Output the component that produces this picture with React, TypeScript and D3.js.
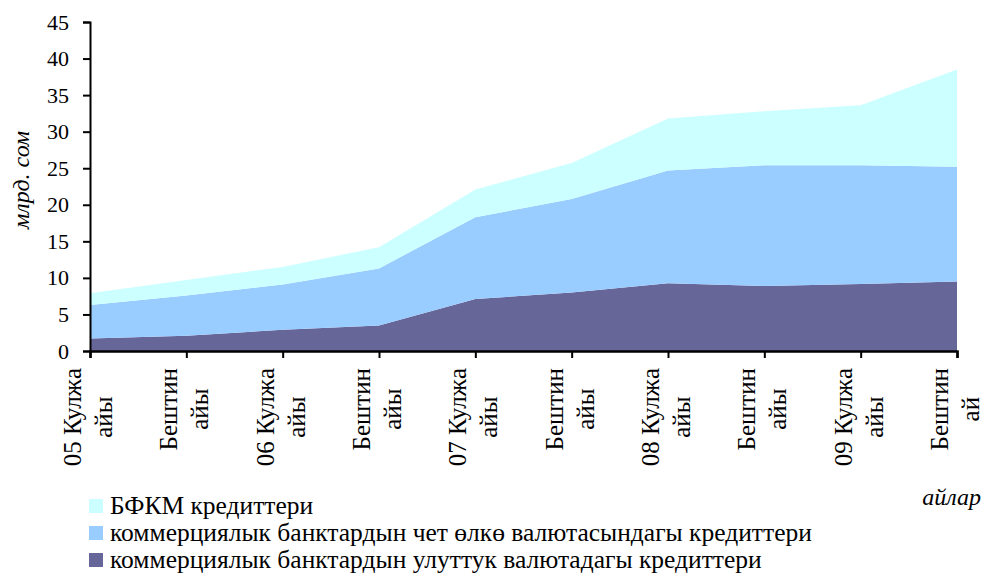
import * as d3 from "d3";
import { useEffect, useRef } from "react";

const months = [
  "05 Кулжа\nайы",
  "Бештин\nайы",
  "06 Кулжа\nайы",
  "Бештин\nайы",
  "07 Кулжа\nайы",
  "Бештин\nайы",
  "08 Кулжа\nайы",
  "Бештин\nайы",
  "09 Кулжа\nайы",
  "Бештин\nай",
];

// млрд. сом
const nationalCur = [1.7, 2.1, 2.9, 3.5, 7.1, 8.0, 9.25, 8.9, 9.15, 9.5];
const foreignCur = [4.6, 5.5, 6.2, 7.8, 11.2, 12.8, 15.45, 16.5, 16.25, 15.7];
const nbkrCredits = [1.6, 2.1, 2.4, 2.9, 3.8, 4.9, 7.1, 7.4, 8.2, 13.3];

const seriesNames = [
  "коммерциялык банктардын улуттук валютадагы кредиттери",
  "коммерциялык банктардын чет өлкө валютасындагы кредиттери",
  "БФКМ кредиттери",
];
const seriesColors = ["#666699", "#99CCFF", "#CCFFFF"];
const yTicks = [0, 5, 10, 15, 20, 25, 30, 35, 40, 45];

const W = 985;
const H = 573;
const FONT = "'Liberation Serif', 'Times New Roman', Times, serif";

const App = () => {
  const ref = useRef<SVGSVGElement>(null);

  useEffect(() => {
    const svg = d3.select(ref.current);
    svg.selectAll("*").remove();

    const x = d3.scalePoint<number>().domain(d3.range(months.length)).range([90, 957]);
    const y = d3.scaleLinear().domain([0, 45]).range([351, 22]);

    const rows = months.map((m, i) => ({
      i,
      nat: nationalCur[i],
      fx: foreignCur[i],
      nbkr: nbkrCredits[i],
    }));
    const layers = d3.stack<any>().keys(["nat", "fx", "nbkr"])(rows);

    const area = d3
      .area<any>()
      .x((d) => x(d.data.i) as number)
      .y0((d) => y(d[0]))
      .y1((d) => y(d[1]));

    svg
      .append("g")
      .selectAll("path")
      .data(layers)
      .enter()
      .append("path")
      .attr("d", (d: any) => area(d))
      .attr("fill", (d, i) => seriesColors[i]);

    // y axis
    const yAxis = svg
      .append("g")
      .attr("transform", "translate(90,0)")
      .call(d3.axisLeft(y).tickValues(yTicks).tickSize(7).tickPadding(14));
    yAxis.select(".domain").attr("stroke", "#000").attr("stroke-width", 2);
    yAxis.selectAll(".tick line").attr("stroke", "#000").attr("stroke-width", 2);
    yAxis
      .selectAll(".tick text")
      .style("font-family", FONT)
      .style("font-size", "22px")
      .attr("fill", "#000");

    // x axis
    const xAxis = svg
      .append("g")
      .attr("transform", "translate(0,351)")
      .call(d3.axisBottom(x).tickSize(7).tickFormat(() => ""));
    xAxis.select(".domain").attr("stroke", "#000").attr("stroke-width", 2.5);
    xAxis.selectAll(".tick line").attr("stroke", "#000").attr("stroke-width", 2);

    // rotated category labels
    const labels = svg.append("g").style("font-family", FONT).style("font-size", "25px");
    months.forEach((m, i) => {
      const lines = m.split("\n");
      const g = labels
        .append("g")
        .attr("transform", `translate(${x(i)},368) rotate(-90)`);
      const texts = lines.map((ln, k) =>
        g
          .append("text")
          .attr("y", k === 0 ? -9 : 22)
          .attr("text-anchor", "middle")
          .text(ln)
      );
      const L = d3.max(texts, (t) => (t.node() as SVGTextElement).getComputedTextLength()) || 0;
      texts.forEach((t) => t.attr("x", -L / 2));
    });

    // y title
    svg
      .append("text")
      .attr("transform", "translate(29,180) rotate(-90)")
      .attr("text-anchor", "middle")
      .style("font-family", FONT)
      .style("font-style", "italic")
      .style("font-size", "24px")
      .text("млрд. сом");

    // x title
    svg
      .append("text")
      .attr("x", 981)
      .attr("y", 505)
      .attr("text-anchor", "end")
      .style("font-family", FONT)
      .style("font-style", "italic")
      .style("font-size", "24px")
      .text("айлар");

    // legend (top to bottom: last series first)
    const legend = svg.append("g").style("font-family", FONT).style("font-size", "25.5px");
    [2, 1, 0].forEach((s, k) => {
      const ly = 506 + k * 27;
      legend
        .append("rect")
        .attr("x", 89)
        .attr("y", ly - 7)
        .attr("width", 14)
        .attr("height", 14)
        .attr("fill", seriesColors[s]);
      legend
        .append("text")
        .attr("x", 110)
        .attr("y", ly + 8)
        .text(seriesNames[s]);
    });
  }, []);

  return (
    <svg
      ref={ref}
      width={W}
      height={H}
      style={{ position: "absolute", left: 0, top: 0, background: "#fff" }}
    />
  );
};

export default App;
